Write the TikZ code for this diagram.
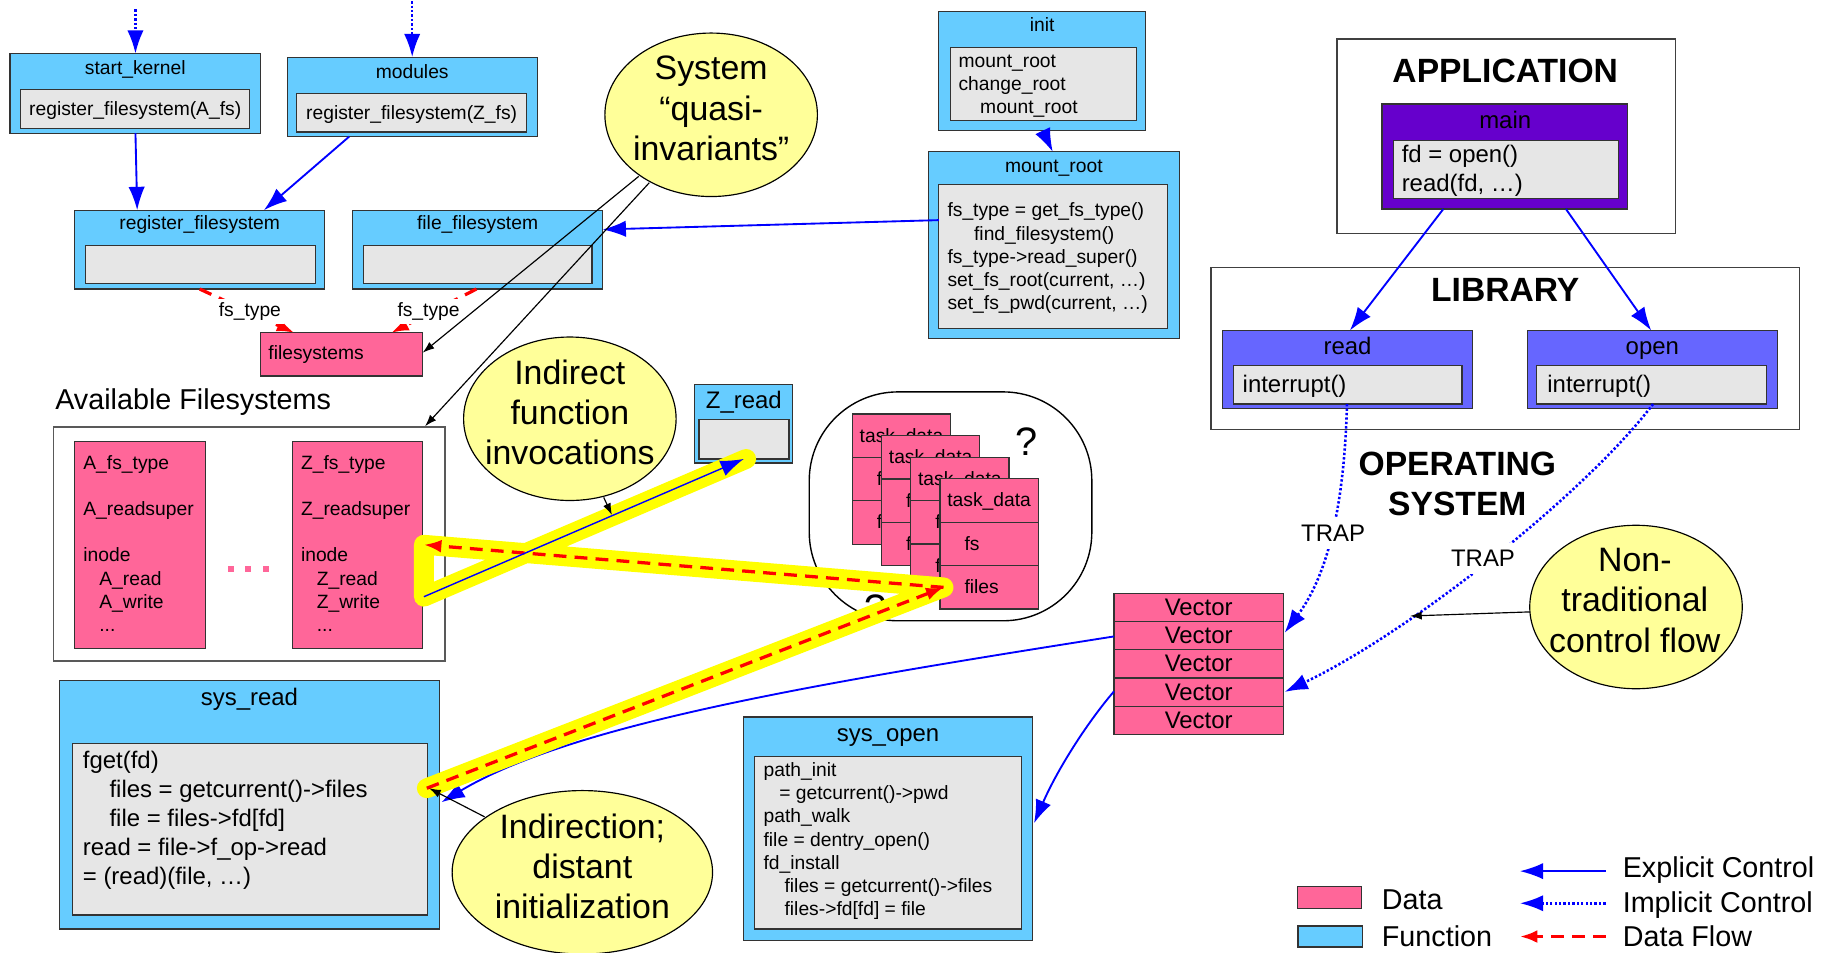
\documentclass[tikz,border=0pt]{standalone}
\usepackage{fontspec}
\setmainfont{Liberation Sans}
\usetikzlibrary{arrows.meta,shapes.geometric,fit,calc}
\definecolor{fnblue}{HTML}{66CCFF}
\definecolor{dpink}{HTML}{FF6699}
\definecolor{ingray}{HTML}{E6E6E6}
\definecolor{nyellow}{HTML}{FFFF99}
\definecolor{mpurple}{HTML}{6600CC}
\definecolor{lblue}{HTML}{6666FF}
\definecolor{hly}{HTML}{FFFF00}
\definecolor{ablue}{HTML}{0000FF}
\definecolor{bordc}{HTML}{333333}
\newcommand\ftS{\fontsize{8.25pt}{9.9pt}\selectfont}
\newcommand\ftM{\fontsize{10.25pt}{12.45pt}\selectfont}
\newcommand\ftL{\fontsize{12.3pt}{15pt}\selectfont}
\newcommand\ftX{\fontsize{14.5pt}{17.25pt}\selectfont}
\newcommand\ftB{\fontsize{14.4pt}{17.25pt}\selectfont\bfseries}
\begin{document}
\begin{tikzpicture}[x=0.5pt,y=-0.5pt,
  bx/.style={draw=bordc, line width=0.5pt, inner sep=0pt, outer sep=0pt},
  fnbox/.style={bx, fill=fnblue},
  dtbox/.style={bx, fill=dpink},
  inbox/.style={bx, fill=ingray},
  frm/.style={draw=black!75, line width=0.6pt, inner sep=0pt, outer sep=0pt},
  note/.style={ellipse, draw=black, line width=0.5pt, fill=nyellow, inner sep=0pt},
  txt/.style={inner sep=0pt, anchor=base},
  code/.style={inner sep=0pt, anchor=north west, align=left},
  ctrl/.style={draw=ablue, line width=0.8pt, -{Latex[length=10pt,width=7pt]}},
  ictrl/.style={ctrl, line width=1.1pt, dash pattern=on 1pt off 0.9pt},
  dflow/.style={draw=red, line width=1.4pt, dash pattern=on 5.5pt off 3.5pt, -{Latex[length=7.5pt,width=5.5pt]}},
  ann/.style={draw=black, line width=0.5pt, -{Latex[length=5pt,width=3.5pt]}},
  hl/.style={draw=hly, line width=8.5pt, line join=round, line cap=round},
  lbl/.style={txt, fill=white, inner sep=1.5pt}]
\useasboundingbox (0,0) rectangle (1568,816);
\fill[white] (0,0) rectangle (1568,816);

% ---------- frames ----------
\node[frm, fit={(1145,33.4) (1435,200)}] (app) {};
\node[frm, fit={(1037,229) (1541,368)}] (lib) {};
\node[frm, draw=black!65, fit={(45.6,365.6) (381,566)}] (avail) {};
\node[frm, draw=black, rounded corners=38pt, fit={(693,335.6) (935,531.6)}] (cloud) {};

% ---------- top-left boxes ----------
\node[fnbox, fit={(8.5,46) (223,114)}] (sk) {};
\node[inbox, fit={(17.6,76.5) (214,110)}] (skin) {};
\node[txt, font=\ftS] (skT) at (115.8,63.4) {start\_kernel};
\node[txt, font=\ftS] (skC) at (115.8,98.7) {register\_filesystem(A\_fs)};

\node[fnbox, fit={(246,49) (460,117)}] (mod) {};
\node[inbox, fit={(254,80) (451,113)}] (modin) {};
\node[txt, font=\ftS] (modT) at (353,66.8) {modules};
\node[txt, font=\ftS] (modC) at (352.5,101.9) {register\_filesystem(Z\_fs)};

\node[fnbox, fit={(64,180) (278,247.5)}] (rf) {};
\node[inbox, fit={(73,210) (270,243)}] (rfin) {};
\node[txt, font=\ftS] (rfT) at (171,196.7) {register\_filesystem};

\node[fnbox, fit={(302,180) (516,247.5)}] (ff) {};
\node[inbox, fit={(311,210) (507,243)}] (ffin) {};
\node[txt, font=\ftS] (ffT) at (409,196.7) {file\_filesystem};

\node[dtbox, fit={(223,285) (362,322)}] (fsys) {};
\node[txt, anchor=base west, font=\ftS] (fsysT) at (229.5,307.7) {filesystems};

% ---------- init / mount_root ----------
\node[fnbox, fit={(804,10) (981,112)}] (init) {};
\node[inbox, fit={(814,40.5) (973,103.4)}] (initin) {};
\node[txt, font=\ftS] (initT) at (892.5,26.8) {init};
\node[code, font=\ftS] (initC) at (820.5,43.5) {\strut mount\_root\\\strut change\_root\\\strut\hspace{9.25pt}mount\_root};

\node[fnbox, fit={(795,130) (1010,290)}] (mr) {};
\node[inbox, fit={(804,158) (1000,281)}] (mrin) {};
\node[txt, font=\ftS] (mrT) at (902.5,147.3) {mount\_root};
\node[code, font=\ftS] (mrC) at (811,171.5) {\strut fs\_type = get\_fs\_type()\\\strut\hspace{11.4pt}find\_filesystem()\\\strut fs\_type->read\_super()\\\strut set\_fs\_root(current, …)\\\strut set\_fs\_pwd(current, …)};

% ---------- application / library ----------
\node[txt, font=\ftB] (appT) at (1289,70.4) {APPLICATION};
\node[bx, fill=mpurple, fit={(1183.5,89) (1394,179)}] (main) {};
\node[inbox, fit={(1193,120) (1386,170)}] (mainin) {};
\node[txt, font=\ftM] (mainT) at (1289,109.8) {main};
\node[code, font=\ftM] (mainC) at (1200,121.4) {\strut fd = open()\\\strut read(fd, …)};

\node[txt, font=\ftB] (libT) at (1289,258.4) {LIBRARY};
\node[bx, fill=lblue, fit={(1047,283) (1261,350)}] (rd) {};
\node[inbox, fit={(1056,313) (1252,346)}] (rdin) {};
\node[txt, font=\ftM] (rdT) at (1154,303.8) {read};
\node[txt, anchor=base west, font=\ftM] (rdC) at (1063.8,336.5) {interrupt()};
\node[bx, fill=lblue, fit={(1308,283) (1522,350)}] (op) {};
\node[inbox, fit={(1316,313) (1513,346)}] (opin) {};
\node[txt, font=\ftM] (opT) at (1415,303.8) {open};
\node[txt, anchor=base west, font=\ftM] (opC) at (1324.7,336.5) {interrupt()};

\node[txt, font=\ftB] (os1) at (1248,407.1) {OPERATING};
\node[txt, font=\ftB] (os2) at (1248,441.4) {SYSTEM};

% ---------- available filesystems ----------
\node[txt, anchor=base west, font=\ftL] (availT) at (47,350.7) {Available Filesystems};
\node[dtbox, fit={(64,378.4) (176,555)}] (afs) {};
\node[code, font=\ftS] (afsC) at (71,387.8) {\strut A\_fs\_type\\\strut\\\strut A\_readsuper\\\strut\\\strut inode\\\strut\hspace{6.85pt}A\_read\\\strut\hspace{6.85pt}A\_write\\\strut\hspace{6.85pt}...};
\node[dtbox, fit={(250.6,378.4) (362,555)}] (zfs) {};
\node[code, font=\ftS] (zfsC) at (257.4,387.8) {\strut Z\_fs\_type\\\strut\\\strut Z\_readsuper\\\strut\\\strut inode\\\strut\hspace{6.75pt}Z\_read\\\strut\hspace{6.75pt}Z\_write\\\strut\hspace{6.75pt}...};
\fill[dpink] (195.5,484.5) rectangle ++(5,5);
\fill[dpink] (210.2,484.5) rectangle ++(5,5);
\fill[dpink] (225.1,484.5) rectangle ++(5,5);

% ---------- Z_read ----------
\node[fnbox, fit={(595,329) (679,396.5)}] (zr) {};
\node[inbox, fit={(598.6,359) (675.7,393)}] (zrin) {};
\node[txt, font=\ftM] (zrT) at (637,349.4) {Z\_read};

% ---------- task data ----------
\node[font=\fontsize{17pt}{20pt}\selectfont, inner sep=0pt] (q1) at (879,378) {?};
\node[font=\fontsize{17pt}{20pt}\selectfont, inner sep=0pt] (q2) at (750,521) {?};
\foreach \i in {0,1,2,3}{
  \pgfmathsetmacro\L{730+25*\i}
  \pgfmathsetmacro\T{354.5+18.5*\i}
  \node[dtbox, fit={(\L,\T) (\L+84,\T+37.17)}] (tda\i) {};
  \node[dtbox, fit={(\L,\T+37.17) (\L+84,\T+74.33)}] (tdb\i) {};
  \node[dtbox, fit={(\L,\T+74.33) (\L+84,\T+111.5)}] (tdc\i) {};
  \node[txt, font=\ftS] (tdt\i) at (\L+42,\T+24) {task\_data};
  \node[txt, anchor=base west, font=\ftS] (tdf\i) at (\L+20.6,\T+61.2) {fs};
  \node[txt, anchor=base west, font=\ftS] (tdg\i) at (\L+20.6,\T+98.4) {files};
}

% ---------- vector table ----------
\foreach \k in {0,...,4}{
  \pgfmathsetmacro\T{508+24.2*\k}
  \node[dtbox, fit={(954,\T) (1099,\T+24.2)}] (vec\k) {};
  \node[txt, font=\ftM] (vect\k) at (1026.5,\T+18.9) {Vector};
}

% ---------- sys_read / sys_open ----------
\node[fnbox, fit={(50.6,583) (376.6,795.6)}] (sr) {};
\node[inbox, fit={(62,636.6) (365.8,783.6)}] (srin) {};
\node[txt, font=\ftM] (srT) at (213.6,603.8) {sys\_read};
\node[code, font=\ftM] (srC) at (70.6,640.4) {\strut fget(fd)\\\strut\hspace{11.4pt}files = getcurrent()->files\\\strut\hspace{11.4pt}file = files->fd[fd]\\\strut read = file->f\_op->read\\\strut = (read)(file, …)};

\node[fnbox, fit={(637,614) (884,805.6)}] (so) {};
\node[inbox, fit={(646,648) (875,795.6)}] (soin) {};
\node[txt, font=\ftM] (soT) at (760.5,634.8) {sys\_open};
\node[code, font=\ftS] (soC) at (653.5,650.9) {\strut path\_init\\\strut\hspace{6.75pt}= getcurrent()->pwd\\\strut path\_walk\\\strut file = dentry\_open()\\\strut fd\_install\\\strut\hspace{9pt}files = getcurrent()->files\\\strut\hspace{9pt}files->fd[fd] = file};

% ---------- notes ----------
\node[note, minimum width=91pt, minimum height=70pt] (sq) at (609,98.3) {};
\node[code, anchor=north, align=center, font=\ftX] (sqT) at (609,43.9) {\strut System\\\strut “quasi-\\\strut invariants”};
\node[note, minimum width=91pt, minimum height=70pt] (ifi) at (488,358.6) {};
\node[code, anchor=north, align=center, font=\ftX] (ifiT) at (488,304.4) {\strut Indirect\\\strut function\\\strut invocations};
\node[note, minimum width=91pt, minimum height=70pt] (ntc) at (1401,519.8) {};
\node[code, anchor=north, align=center, font=\ftX] (ntcT) at (1400,465) {\strut Non-\\\strut traditional\\\strut control flow};
\node[note, minimum width=111.5pt, minimum height=70pt] (ind) at (498.7,747) {};
\node[code, anchor=north, align=center, font=\ftX] (indT) at (498.7,693.4) {\strut Indirection;\\\strut distant\\\strut initialization};

% ---------- coordinates ----------
\coordinate (d1s) at (116,8);
\coordinate (d2s) at (353,1);
\coordinate (c1s) at (116,114);   \coordinate (c1e) at (117.5,180);
\coordinate (c2s) at (299,117);   \coordinate (c2e) at (226,180);
\coordinate (r1s) at (171,247.5); \coordinate (r1e) at (252,285);
\coordinate (r2s) at (408,247.5); \coordinate (r2e) at (335,285);
\coordinate (ims) at (893,112);   \coordinate (ime) at (901.5,130);
\coordinate (mfs) at (804,188.5); \coordinate (mfe) at (516,196.5);
\coordinate (q1s) at (547,151);   \coordinate (q1e) at (362,302);
\coordinate (q2s) at (556,156.5); \coordinate (q2e) at (364,365);
\coordinate (mrs) at (1236,179);  \coordinate (mre) at (1156,283);
\coordinate (mos) at (1341,179);  \coordinate (moe) at (1414,283);
\coordinate (t1s) at (1153.5,346); \coordinate (t1e) at (1100,542);
\coordinate (t2s) at (1415.6,346); \coordinate (t2e) at (1100,592.6);
\coordinate (nts) at (1310,524);  \coordinate (nte) at (1207.5,527.5);
\coordinate (v2s) at (954,545);   \coordinate (v2e) at (378,687);
\coordinate (v4s) at (954,592);   \coordinate (v4e) at (885.5,705);
\coordinate (i1s) at (517,426);   \coordinate (i1e) at (524,441);
\coordinate (i2s) at (415,699.5); \coordinate (i2e) at (367.5,675);
\coordinate (ySR) at (365.5,675);
\coordinate (yF) at (808,503);
\coordinate (yZt) at (363,466.5);
\coordinate (yZb) at (363,511);
\coordinate (yZR) at (639,393);
\coordinate (zrTip) at (637,393);

% ---------- connectors ----------
\draw[ictrl] (d1s) -- (d1s |- sk.north);
\draw[ictrl] (d2s) -- (d2s |- mod.north);
\draw[ctrl] (c1s) -- (c1e);
\draw[ctrl] (c2s) -- (c2e);
\draw[dflow] (r1s) -- (r1e);
\draw[dflow] (r2s) -- (r2e);
\node[lbl, font=\ftS] (fl1) at (214,271.4) {fs\_type};
\node[lbl, font=\ftS] (fl2) at (367,271.4) {fs\_type};
\draw[ctrl] (ims) -- (ime);
\draw[ctrl] (mfs) -- (mfe);
\draw[ann] (q1s) -- (q1e);
\draw[ann] (q2s) -- (q2e);
\draw[ctrl] (mrs) -- (mre);
\draw[ctrl] (mos) -- (moe);
\draw[ictrl] (t1s) .. controls (1151,440) and (1135,495) .. (t1e);
\draw[ictrl] (t2s) .. controls (1360,420) and (1210,540) .. (t2e);
\node[lbl, font=\ftM, inner sep=3pt] (trap1) at (1141.6,463.8) {TRAP};
\node[lbl, font=\ftM, inner sep=3pt] (trap2) at (1270,485.3) {TRAP};
\draw[ann] (nts) -- (nte);
\draw[ctrl] (v2s) .. controls (700,585) and (490,620) .. (v2e);
\draw[ctrl] (v4s) .. controls (930,620) and (905,660) .. (v4e);

% ---------- highlighted path ----------
\draw[hl] (ySR) -- (yF) -- (yZt) -- (yZb) -- (yZR);
\draw[dflow] (ySR) -- (yF);
\draw[dflow] (yF) -- (yZt);
\draw[ctrl, line width=0.6pt] (yZb) -- (zrTip);
\draw[ann] (i1s) -- (i1e);
\draw[ann] (i2s) -- (i2e);

% ---------- legend ----------
\node[dtbox, fit={(1111,759.4) (1166,777.8)}] (lgD) {};
\node[fnbox, fit={(1111.6,793) (1166.5,811)}] (lgF) {};
\node[txt, anchor=base west, font=\ftL] (lgDT) at (1183,778.8) {Data};
\node[txt, anchor=base west, font=\ftL] (lgFT) at (1183,810.1) {Function};
\coordinate (le1s) at (1375,746);   \coordinate (le1e) at (1301.5,746);
\coordinate (le2s) at (1375,773.5); \coordinate (le2e) at (1301.5,773.5);
\coordinate (le3s) at (1375,802);   \coordinate (le3e) at (1301.5,802);
\draw[ctrl] (le1s) -- (le1e);
\draw[ictrl] (le2s) -- (le2e);
\draw[dflow] (le3s) -- (le3e);
\node[txt, anchor=base west, font=\ftL] (lgE) at (1389.3,751.1) {Explicit Control};
\node[txt, anchor=base west, font=\ftL] (lgI) at (1389.3,781.6) {Implicit Control};
\node[txt, anchor=base west, font=\ftL] (lgR) at (1389.3,810.1) {Data Flow};
\end{tikzpicture}
\end{document}
